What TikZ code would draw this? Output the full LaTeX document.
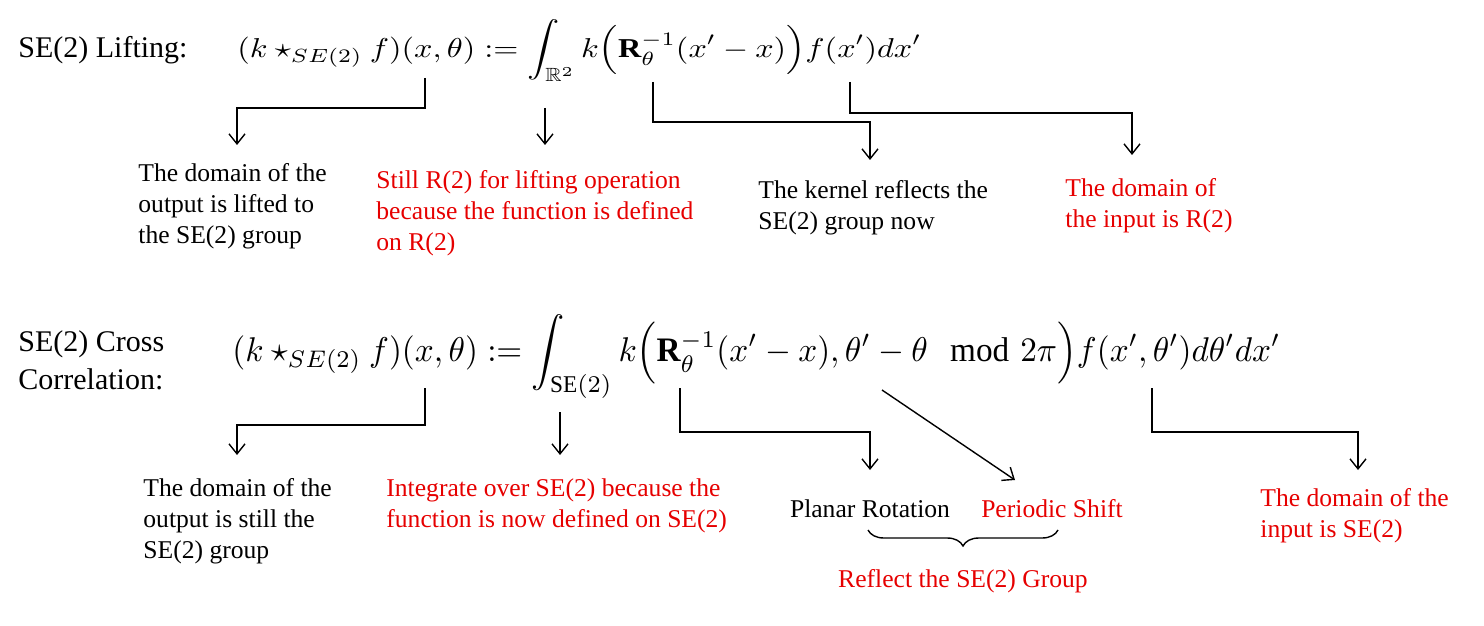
\documentclass[tikz,border=0pt]{standalone}
\usepackage{amsmath,amssymb,graphicx}
\usepackage{fontspec}
\setmainfont{Liberation Serif}
\usetikzlibrary{decorations.pathreplacing,arrows.meta}
\begin{document}
\begin{tikzpicture}[x=0.5pt,y=-0.5pt,
  lbl/.style={anchor=north west,align=left,font=\fontsize{12.8}{15.5}\selectfont,inner sep=0},
  red/.style={text={rgb,255:red,230;green,0;blue,0}},
  title/.style={anchor=north west,align=left,font=\fontsize{15}{19}\selectfont,inner sep=0},
  conn/.style={draw=black,line width=0.7pt,-{Straight Barb[length=5pt,width=8pt]}}]
\useasboundingbox (0,0) rectangle (1484,626);
\node[title] (t1) at (18,36) {SE(2) Lifting:};
\node[anchor=west,inner sep=0] (f1) at (237,51) {\resizebox*{342pt}{31pt}{$(k\star_{SE(2)} f)(x,\theta) := \displaystyle\int_{\mathbb{R}^2} k\Big(\mathbf{R}_\theta^{-1}(x'-x)\Big) f(x')dx'$}};
\coordinate (a1) at (425,78); \coordinate (a1e) at (237,145);
\draw[conn] (a1) |- (237,108) -- (a1e);
\coordinate (b1) at (545,108); \coordinate (b1e) at (545,145);
\draw[conn] (b1) -- (b1e);
\coordinate (c1) at (653,82); \coordinate (c1e) at (870,160);
\draw[conn] (c1) |- (870,122) -- (c1e);
\coordinate (d1) at (850,82); \coordinate (d1e) at (1132,155);
\draw[conn] (d1) |- (1132,113) -- (d1e);
\node[lbl] (l1) at (138,163) {The domain of the\\output is lifted to\\the SE(2) group};
\node[lbl,red] (l2) at (376,170) {Still R(2) for lifting operation\\because the function is defined\\on R(2)};
\node[lbl] (l3) at (758,180) {The kernel reflects the\\SE(2) group now};
\node[lbl,red] (l4) at (1065,178) {The domain of\\the input is R(2)};

\node[title] (t2) at (18,330) {SE(2) Cross\\Correlation:};
\node[anchor=west,inner sep=0] (f2) at (232,357) {\resizebox*{524pt}{42pt}{$(k\star_{SE(2)} f)(x,\theta) := \displaystyle\int_{\mathrm{SE}(2)} k\Big(\mathbf{R}_\theta^{-1}(x'-x),\theta'-\theta \mod 2\pi\Big) f(x',\theta')d\theta' dx'$}};
\coordinate (a2) at (425,388); \coordinate (a2e) at (237,455);
\draw[conn] (a2) |- (237,425) -- (a2e);
\coordinate (b2) at (560,412); \coordinate (b2e) at (560,455);
\draw[conn] (b2) -- (b2e);
\coordinate (c2) at (680,388); \coordinate (c2e) at (870,470);
\draw[conn] (c2) |- (870,432) -- (c2e);
\coordinate (e2) at (882,390); \coordinate (e2e) at (1015,480);
\draw[conn] (e2) -- (e2e);
\coordinate (d2) at (1152,388); \coordinate (d2e) at (1358,470);
\draw[conn] (d2) |- (1358,432) -- (d2e);
\node[lbl] (m1) at (143,478) {The domain of the\\output is still the\\SE(2) group};
\node[lbl,red] (m2) at (386,478) {Integrate over SE(2) because the\\function is now defined on SE(2)};
\node[font=\fontsize{12.8}{15}\selectfont,inner sep=0] (pr) at (870,509) {Planar Rotation};
\node[font=\fontsize{12.8}{15}\selectfont,inner sep=0,red] (ps) at (1052,509) {Periodic Shift};
\coordinate (br1) at (868,530); \coordinate (br2) at (1058,530);
\draw[line width=0.7pt,decorate,decoration={brace,mirror,amplitude=8pt}] (br1) -- (br2);
\node[font=\fontsize{12.8}{15}\selectfont,inner sep=0,red] (rf) at (963,581) {Reflect the SE(2) Group};
\node[lbl,red] (m4) at (1260,488) {The domain of the\\input is SE(2)};
\end{tikzpicture}
\end{document}
